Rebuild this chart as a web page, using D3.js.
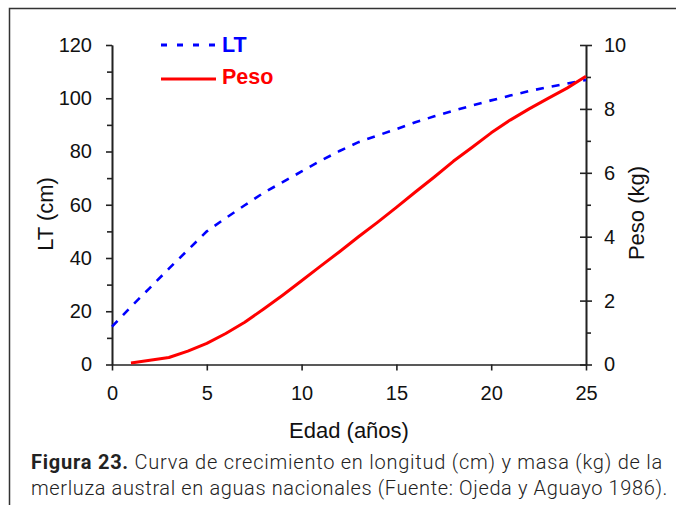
<!DOCTYPE html>
<html>
<head>
<meta charset="utf-8">
<script src="https://cdn.jsdelivr.net/npm/d3@7"></script>
<style>
  html, body { margin: 0; padding: 0; background: #fff; }
  svg { display: block; }
</style>
</head>
<body>
<svg id="viz" width="676" height="505"></svg>
<script>
// === DATA ===
const ltAges = [0, 1, 2, 3, 4, 5, 6, 7, 8, 9, 10, 11, 12, 13, 14, 15, 16, 17, 18, 19, 20, 21, 22, 23, 24, 25];
const ltValues = [14.2, 21.7, 28.8, 36, 43, 50, 55, 59.8, 64.5, 68.5, 72.5, 76.5, 80.2, 83.5, 86, 88.4, 91, 93.2, 95.3, 97.3, 99.2, 101, 102.7, 104.2, 105.5, 106.9];

const pesoAges = [1, 2, 3, 4, 5, 6, 7, 8, 9, 10, 11, 12, 13, 14, 15, 16, 17, 18, 19, 20, 21, 22, 23, 24, 25];
const pesoValues = [0.05, 0.13, 0.22, 0.42, 0.66, 0.97, 1.32, 1.74, 2.17, 2.62, 3.08, 3.53, 4.0, 4.45, 4.92, 5.4, 5.87, 6.36, 6.8, 7.25, 7.65, 8.0, 8.33, 8.65, 9.02];

const xTicks = [0, 5, 10, 15, 20, 25];
const ltTicks = [0, 20, 40, 60, 80, 100, 120];
const ltMinor = [10, 30, 50, 70, 90, 110];
const pesoTicks = [0, 2, 4, 6, 8, 10];
const pesoMinor = [1, 3, 5, 7, 9];

const legendNames = ["LT", "Peso"];
const captionBold = "Figura 23.";
const captionLine1 = " Curva de crecimiento en longitud (cm) y masa (kg) de la";
const captionLine2 = "merluza austral en aguas nacionales (Fuente: Ojeda y Aguayo 1986).";

// === SETUP ===
const svg = d3.select("#viz");
const font = "'Liberation Sans', Arial, sans-serif";
const axisColor = "#222";

const x = d3.scaleLinear().domain([0, 25]).range([112, 586]);
const yL = d3.scaleLinear().domain([0, 120]).range([364.5, 45]);
const yR = d3.scaleLinear().domain([0, 10]).range([364.5, 45]);

// frame
svg.append("path")
  .attr("d", "M9.5,505 L9.5,8.5 L676,8.5")
  .attr("fill", "none")
  .attr("stroke", "#333")
  .attr("stroke-width", 1.5);

// === AXES ===
function styleAxis(g) {
  g.select(".domain").attr("stroke", axisColor).attr("stroke-width", 1.6);
  g.selectAll(".tick line").attr("stroke", axisColor).attr("stroke-width", 1.6);
  g.selectAll(".tick text")
    .attr("fill", "#111")
    .style("font-family", font)
    .style("font-size", "20px");
}

// left minor
svg.append("g")
  .attr("transform", `translate(${x(0)},0)`)
  .call(d3.axisLeft(yL).tickValues(ltMinor).tickSize(5).tickSizeOuter(0).tickFormat(""))
  .call(styleAxis);

svg.append("g")
  .attr("transform", `translate(${x(0)},0)`)
  .call(d3.axisLeft(yL).tickValues(ltTicks).tickSize(6).tickSizeOuter(0).tickPadding(14))
  .call(styleAxis);

// right minor
svg.append("g")
  .attr("transform", `translate(${x(25)},0)`)
  .call(d3.axisRight(yR).tickValues(pesoMinor).tickSize(5).tickSizeOuter(0).tickFormat(""))
  .call(styleAxis);

const rightAxis = svg.append("g")
  .attr("transform", `translate(${x(25)},0)`)
  .call(d3.axisRight(yR).tickValues(pesoTicks).tickSize(6).tickSizeOuter(0).tickPadding(12))
  .call(styleAxis);
// major ticks cross the axis
rightAxis.selectAll(".tick line").attr("x1", -6);

// bottom
svg.append("g")
  .attr("transform", `translate(0,${yL(0)})`)
  .call(d3.axisBottom(x).tickValues(xTicks).tickSize(6).tickSizeOuter(0).tickPadding(15))
  .call(styleAxis);

// axis titles
svg.append("text")
  .attr("transform", "translate(53,214) rotate(-90)")
  .attr("text-anchor", "middle")
  .style("font-family", font)
  .style("font-size", "22px")
  .attr("fill", "#111")
  .text("LT (cm)");

svg.append("text")
  .attr("transform", "translate(644,213) rotate(-90)")
  .attr("text-anchor", "middle")
  .style("font-family", font)
  .style("font-size", "22px")
  .attr("fill", "#111")
  .text("Peso (kg)");

svg.append("text")
  .attr("x", (x(0) + x(25)) / 2)
  .attr("y", 438)
  .attr("text-anchor", "middle")
  .style("font-family", font)
  .style("font-size", "22px")
  .attr("fill", "#111")
  .text("Edad (años)");

// === LINES ===
const ltData = ltAges.map((a, i) => ({ age: a, v: ltValues[i] }));
const pesoData = pesoAges.map((a, i) => ({ age: a, v: pesoValues[i] }));

svg.append("path")
  .datum(ltData)
  .attr("fill", "none")
  .attr("stroke", "#0000ff")
  .attr("stroke-width", 2.6)
  .attr("stroke-dasharray", "8,8")
  .attr("d", d3.line().x(d => x(d.age)).y(d => yL(d.v)));

svg.append("path")
  .datum(pesoData)
  .attr("fill", "none")
  .attr("stroke", "#ff0000")
  .attr("stroke-width", 3)
  .attr("stroke-linejoin", "round")
  .attr("d", d3.line().x(d => x(d.age)).y(d => yR(d.v)));

// === LEGEND ===
const legend = svg.append("g");
legend.append("line")
  .attr("x1", 161).attr("x2", 216).attr("y1", 45).attr("y2", 45)
  .attr("stroke", "#0000ff").attr("stroke-width", 3)
  .attr("stroke-dasharray", "6,10");
legend.append("line")
  .attr("x1", 161).attr("x2", 216).attr("y1", 79).attr("y2", 79)
  .attr("stroke", "#ff0000").attr("stroke-width", 3);
legend.append("text")
  .attr("x", 222).attr("y", 51.5)
  .attr("fill", "#0000ff")
  .style("font-family", font).style("font-size", "21.5px").style("font-weight", "bold")
  .text(legendNames[0]);
legend.append("text")
  .attr("x", 222).attr("y", 84)
  .attr("fill", "#ff0000")
  .style("font-family", font).style("font-size", "21.5px").style("font-weight", "bold")
  .text(legendNames[1]);

// === CAPTION ===
const capFont = "Roboto, 'Liberation Sans', sans-serif";
const cap1 = svg.append("text")
  .attr("x", 31).attr("y", 468.5)
  .style("font-family", capFont).style("font-size", "20px")
  .attr("fill", "#222");
cap1.append("tspan").style("font-weight", "bold").text(captionBold);
cap1.append("tspan").style("font-weight", "300").text(captionLine1);

const cap2 = svg.append("text")
  .attr("x", 31).attr("y", 494.5)
  .style("font-family", capFont).style("font-size", "20px").style("font-weight", "300")
  .attr("fill", "#222")
  .text(captionLine2);

// stretch caption lines to the printed width with letter spacing
function fitWidth(t, target) {
  const n = t.text().length;
  const len = t.node().getComputedTextLength();
  t.style("letter-spacing", ((target - len) / n) + "px");
}
fitWidth(cap1, 632);
fitWidth(cap2, 637);
</script>
</body>
</html>
